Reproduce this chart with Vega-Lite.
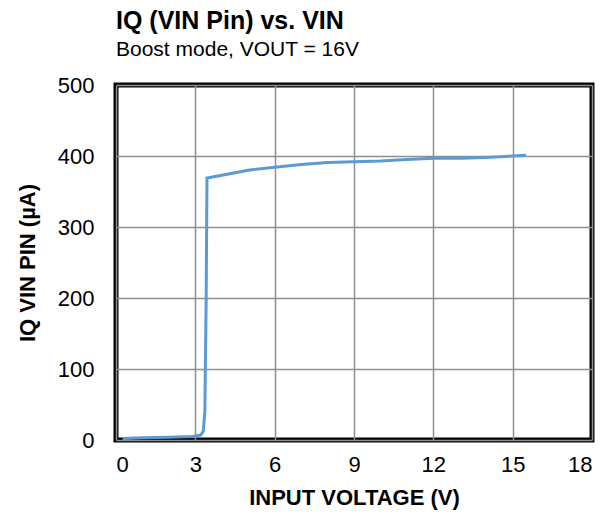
{
  "$schema": "https://vega.github.io/schema/vega-lite/v6.json",
  "autosize": {"type": "none"},
  "padding": {"left": 116, "top": 85, "right": 14, "bottom": 79},
  "width": 476,
  "height": 355,
  "title": {
    "text": "IQ (VIN Pin) vs. VIN",
    "subtitle": "Boost mode, VOUT = 16V",
    "anchor": "start",
    "frame": "group",
    "font": "Liberation Sans",
    "fontSize": 25,
    "fontWeight": "bold",
    "color": "black",
    "subtitleFont": "Liberation Sans",
    "subtitleFontSize": 21,
    "subtitleColor": "black",
    "subtitlePadding": 5,
    "offset": 14
  },
  "config": {
    "view": {"stroke": "black", "strokeWidth": 5},
    "axis": {
      "labelFont": "Liberation Sans",
      "labelFontSize": 22,
      "labelColor": "black",
      "titleFont": "Liberation Sans",
      "titleFontSize": 22,
      "titleFontWeight": "bold",
      "titleColor": "black",
      "domain": false,
      "ticks": false,
      "gridColor": "#8f8f8f",
      "gridWidth": 1.5,
      "gridOpacity": 1
    }
  },
  "data": {
    "values": [
      {"v": 0.25, "i": 2},
      {"v": 1, "i": 3},
      {"v": 2, "i": 4},
      {"v": 2.9, "i": 5},
      {"v": 3.2, "i": 7},
      {"v": 3.3, "i": 12},
      {"v": 3.36, "i": 40},
      {"v": 3.41, "i": 200},
      {"v": 3.44, "i": 369},
      {"v": 3.6, "i": 370},
      {"v": 4, "i": 373},
      {"v": 5, "i": 380},
      {"v": 6, "i": 384},
      {"v": 7, "i": 388},
      {"v": 8, "i": 391},
      {"v": 9, "i": 392},
      {"v": 10, "i": 393},
      {"v": 11, "i": 395},
      {"v": 12, "i": 397},
      {"v": 13, "i": 397},
      {"v": 14, "i": 398},
      {"v": 15.5, "i": 401}
    ]
  },
  "mark": {"type": "line", "color": "#5B9BD5", "strokeWidth": 3, "clip": true},
  "encoding": {
    "x": {
      "field": "v",
      "type": "quantitative",
      "scale": {"domain": [0, 18], "nice": false},
      "axis": {"values": [0, 3, 6, 9, 12, 15, 18], "title": "INPUT VOLTAGE  (V)", "labelPadding": 14, "titlePadding": 12}
    },
    "y": {
      "field": "i",
      "type": "quantitative",
      "scale": {"domain": [0, 500], "nice": false},
      "axis": {"values": [0, 100, 200, 300, 400, 500], "title": "IQ VIN PIN (µA)", "labelPadding": 22, "titlePadding": 18}
    }
  }
}
